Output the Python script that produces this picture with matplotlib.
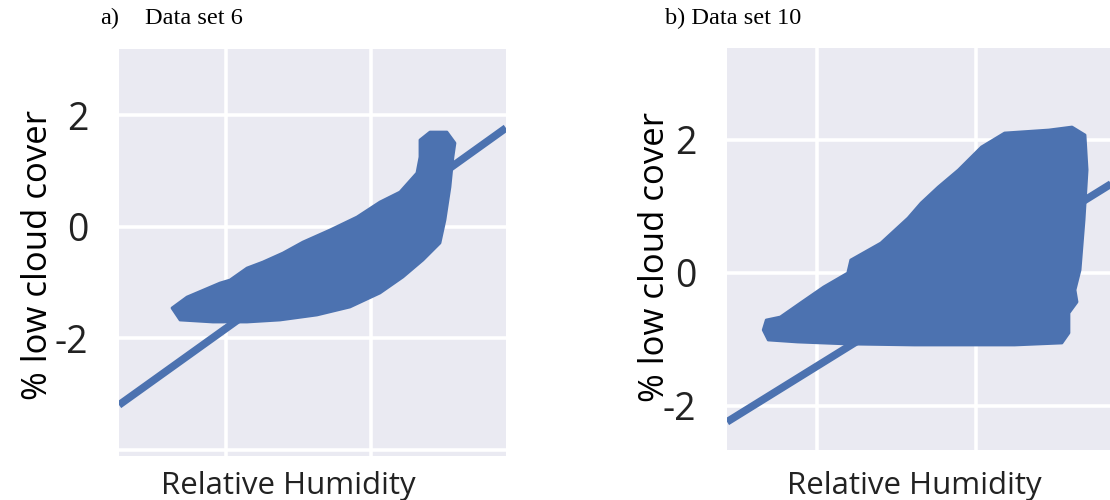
import numpy as np
import matplotlib
matplotlib.use("Agg")
import matplotlib.pyplot as plt

# ---- data (standardised units) ----
# panel a: outline of the dense scatter cloud
cloud_a_x = [-0.745, -0.538, -0.083, 0.055, 0.290, 0.510, 0.786, 1.062, 1.434, 1.807,
             2.124, 2.400, 2.634, 2.676, 2.676, 2.814, 3.048, 3.159, 3.131, 3.090,
             3.021, 2.952, 2.717, 2.441, 2.124, 1.710, 1.255, 0.745, 0.290, -0.179, -0.634]
cloud_a_y = [-1.459, -1.262, -1.011, -0.957, -0.742, -0.634, -0.473, -0.276, -0.061, 0.172,
             0.441, 0.620, 0.961, 1.247, 1.552, 1.695, 1.695, 1.498, 1.247, 0.710,
             0.118, -0.294, -0.599, -0.903, -1.190, -1.441, -1.584, -1.674, -1.710, -1.710, -1.674]
fit_a = (0.930, -1.824)  # slope, intercept

# panel b
cloud_b_x = [-0.667, -0.629, -0.453, -0.201, 0.088, 0.390, 0.428, 0.805, 1.145, 1.308,
             1.522, 1.774, 2.063, 2.352, 2.906, 3.195, 3.358, 3.384, 3.346, 3.296,
             3.233, 3.258, 3.157, 3.157, 3.069, 2.478, 1.220, 0.390, -0.239, -0.604]
cloud_b_y = [-0.857, -0.707, -0.662, -0.451, -0.211, 0.000, 0.195, 0.451, 0.827, 1.053,
             1.293, 1.549, 1.895, 2.105, 2.150, 2.195, 2.075, 1.549, 0.797, 0.045,
             -0.256, -0.436, -0.602, -0.902, -1.053, -1.083, -1.083, -1.068, -1.038, -1.008]
fit_b = (0.745, -1.405)

title_a = ("a)", "Data set 6")
title_b = "b) Data set 10"
xlabel = "Relative Humidity"
ylabel = "% low cloud cover"

blue = "#4C72B0"
bg = "#EAEAF2"

fig = plt.figure(figsize=(11.1, 5.0), dpi=100)
ax_a = fig.add_axes([0.1072, 0.088, 0.3486, 0.814])
ax_b = fig.add_axes([0.655, 0.10, 0.347, 0.804])

panels = [
    (ax_a, cloud_a_x, cloud_a_y, fit_a, (-1.476, 3.862), (-4.111, 3.183),
     [-4, -2, 0, 2], ["", "-2", "0", "2"], (0.437, -0.037), (-0.165, 0.494)),
    (ax_b, cloud_b_x, cloud_b_y, fit_b, (-1.119, 3.698), (-2.662, 3.383),
     [-2, 0, 2], ["-2", "0", "2"], (0.486, -0.052), (-0.144, 0.48)),
]

for ax, cx, cy, fit, xl, yl, yt, ytl, xlab_pos, ylab_pos in panels:
    ax.set_facecolor(bg)
    for s in ax.spines.values():
        s.set_visible(False)
    ax.set_xlim(*xl)
    ax.set_ylim(*yl)
    ax.set_xticks([0, 2])
    ax.set_xticklabels([])
    ax.set_yticks(yt)
    ax.set_yticklabels(ytl, fontsize=27, family="Open Sans", color="#222222")
    ax.tick_params(length=0, pad=22)
    ax.grid(True, color="white", linewidth=2.6)
    ax.set_axisbelow(True)

    ax.fill(cx, cy, color=blue, edgecolor=blue, linewidth=2, joinstyle="round", zorder=2)
    xs = np.array(xl)
    ax.plot(xs, fit[0] * xs + fit[1], color=blue, linewidth=5.5, zorder=3,
            solid_capstyle="butt")

    ax.set_xlabel(xlabel, fontsize=22.5, family="Open Sans", color="#222222")
    ax.set_ylabel(ylabel, fontsize=25, family="Open Sans", color="black")
    ax.xaxis.set_label_coords(*xlab_pos)
    ax.yaxis.set_label_coords(*ylab_pos)

fig.text(100 / 1110, 1 - 18 / 500, title_a[0], fontsize=17.5, family="Liberation Serif",
         va="center", ha="left")
fig.text(145 / 1110, 1 - 18 / 500, title_a[1], fontsize=17.5, family="Liberation Serif",
         va="center", ha="left")
fig.text(665 / 1110, 1 - 18 / 500, title_b, fontsize=17.5, family="Liberation Serif",
         va="center", ha="left")

fig.savefig("out.png", dpi=100)
